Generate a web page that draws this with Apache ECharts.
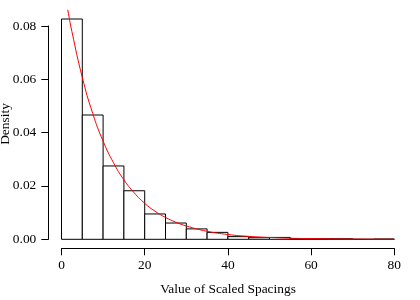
<!DOCTYPE html>
<html>
<head>
<meta charset="utf-8">
<script src="https://cdn.jsdelivr.net/npm/echarts@6/dist/echarts.min.js"></script>
<style>html,body{margin:0;padding:0;background:#fff}#c{width:420px;height:300px}</style>
</head>
<body>
<div id="c"></div>
<script>
// Histogram bins (left edges), width 5
var binStarts = [0,5,10,15,20,25,30,35,40,45,50,55,60,65,70,75];
var binWidth = 5;
var density = [0.0826,0.0466,0.0275,0.0182,0.0095,0.0061,0.0039,0.0026,0.0010,0.0006,0.0007,0.0002,0.0002,0.0002,0.0000,0.0001];
// Red density curve
var curveX = [0,1,1.5,2.5,5,7.5,10,12.5,15,17.5,20,22.5,25,27.5,30,35,40,45,50,55,60,70,80];
var curveY = [0.1,0.0905,0.0861,0.0779,0.0607,0.0472,0.0368,0.0287,0.0223,0.0174,0.0135,0.0105,0.0082,0.0064,0.0050,0.0030,0.0018,0.0011,0.0007,0.0004,0.00025,0.00009,0.00003];
var xTicks = [0,20,40,60,80];
var yTicks = [0,0.02,0.04,0.06,0.08];

var FONT = '"Liberation Serif", "DejaVu Serif", serif';
var FS = 13.4;
var chart = echarts.init(document.getElementById('c'), null, {renderer:'canvas'});
var binData = binStarts.map(function(s,i){return [s, s+binWidth, density[i]];});
var curveData = curveX.map(function(x,i){return [x, curveY[i]];});

chart.setOption({
  animation:false,
  backgroundColor:'#fff',
  grid:[
    {left:48.2, right:12.4, top:10.2, bottom:51.9},
    {left:61.5, right:25.7, top:240, bottom:51.7},
    {left:48.3, width:20, top:26, bottom:60.7}
  ],
  xAxis:[
    {gridIndex:0, type:'value', min:-3.2, max:83.2, show:false},
    {gridIndex:1, type:'value', min:xTicks[0], max:xTicks[xTicks.length-1], interval:20, position:'bottom',
      axisLine:{show:true, onZero:false, lineStyle:{color:'#000', width:1}},
      axisTick:{show:true, length:7, lineStyle:{color:'#000'}},
      axisLabel:{show:true, margin:11, color:'#000', fontFamily:FONT, fontSize:FS,
        showMinLabel:true, showMaxLabel:true},
      splitLine:{show:false}},
    {gridIndex:2, type:'value', min:0, max:1, show:false}
  ],
  yAxis:[
    {gridIndex:0, type:'value', min:-0.0033, max:0.0859, show:false},
    {gridIndex:1, type:'value', min:0, max:1, show:false},
    {gridIndex:2, type:'value', min:yTicks[0], max:yTicks[yTicks.length-1], interval:0.02, position:'left',
      axisLine:{show:true, onZero:false, lineStyle:{color:'#000', width:1}},
      axisTick:{show:true, length:7, lineStyle:{color:'#000'}},
      axisLabel:{show:true, margin:12, color:'#000', fontFamily:FONT, fontSize:FS,
        formatter:function(v){return v.toFixed(2);}, showMinLabel:true, showMaxLabel:true},
      splitLine:{show:false}}
  ],
  graphic:[
    {type:'text', x:228, y:289.5, style:{text:'Value of Scaled Spacings', align:'center', verticalAlign:'middle', font:FS+'px '+FONT, fill:'#000'}},
    {type:'text', x:5.5, y:124, rotation:Math.PI/2, style:{text:'Density', align:'center', verticalAlign:'middle', font:FS+'px '+FONT, fill:'#000'}}
  ],
  series:[
    {type:'custom', xAxisIndex:0, yAxisIndex:0, data:binData, clip:true,
      renderItem:function(params, api){
        var p0 = api.coord([api.value(0), api.value(2)]);
        var p1 = api.coord([api.value(1), 0]);
        return {type:'rect', shape:{x:p0[0], y:p0[1], width:p1[0]-p0[0], height:p1[1]-p0[1]},
          style:{fill:'#fff', stroke:'#000', lineWidth:1}};
      }},
    {type:'line', xAxisIndex:0, yAxisIndex:0, data:curveData, smooth:true, showSymbol:false, clip:true,
      lineStyle:{color:'#ff0000', width:1}, z:5}
  ]
});
</script>
</body>
</html>
